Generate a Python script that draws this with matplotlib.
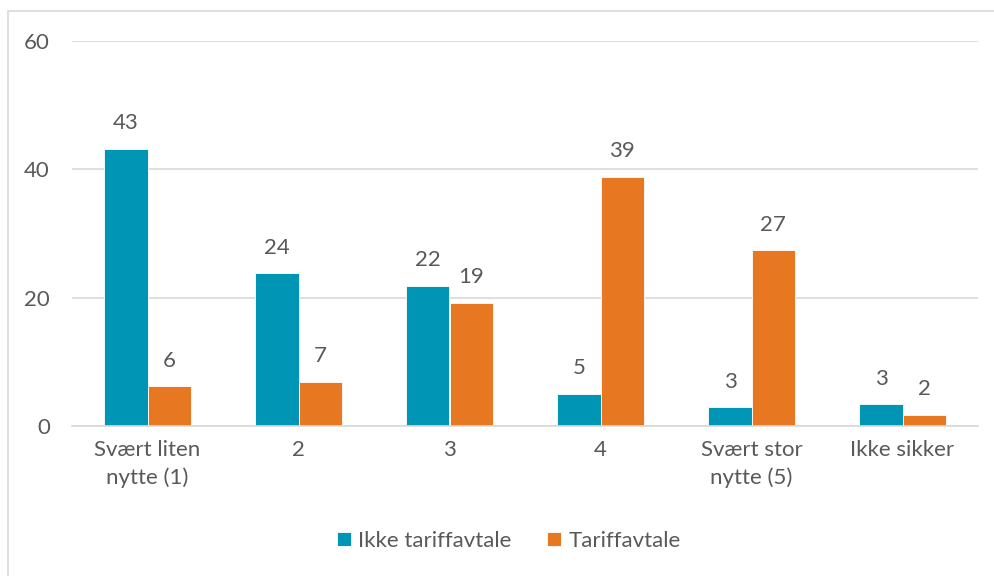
import matplotlib
matplotlib.use("Agg")
import matplotlib.pyplot as plt
import numpy as np

categories = ["Svært liten\nnytte (1)", "2", "3", "4", "Svært stor\nnytte (5)", "Ikke sikker"]
ikke_tariff = [43.2, 23.8, 21.8, 5.0, 2.9, 3.4]
tariff = [6.2, 6.9, 19.2, 38.8, 27.4, 1.7]
series_names = ["Ikke tariffavtale", "Tariffavtale"]

BLUE = "#0095B4"
ORANGE = "#E87722"
TXT = "#595959"
FS = 16
plt.rcParams["font.family"] = ["Lato", "DejaVu Sans"]

fig = plt.figure(figsize=(9.94, 5.76), dpi=100)
# light frame around the chart area
fig.patches.append(plt.Rectangle((8 / 994, -0.1), 1.2, (576 - 11) / 576 + 0.1, transform=fig.transFigure,
                                 fill=False, edgecolor="#d9d9d9", lw=1.2))
ax = fig.add_axes([72 / 994, (576 - 426) / 576, (978 - 72) / 994, (426 - 41) / 576])

x = np.arange(len(categories))
w = 0.285
b1 = ax.bar(x - w / 2, ikke_tariff, w, color=BLUE, edgecolor="white", lw=0.6, label=series_names[0], zorder=2)
b2 = ax.bar(x + w / 2, tariff, w, color=ORANGE, edgecolor="white", lw=0.6, label=series_names[1], zorder=2)
for bars, vals in ((b1, ikke_tariff), (b2, tariff)):
    for r, v in zip(bars, vals):
        ax.text(r.get_x() + r.get_width() / 2, v + 4.0, f"{v:.0f}", ha="center", va="center",
                fontsize=FS, color=TXT)

ax.set_xlim(-0.5, len(categories) - 0.5)
ax.set_ylim(0, 60)
ax.set_yticks([0, 20, 40, 60])
ax.set_xticks(x)
ax.set_xticklabels(categories, linespacing=1.45)
ax.tick_params(axis="both", length=0, labelsize=FS, labelcolor=TXT)
ax.tick_params(axis="y", pad=16)
ax.tick_params(axis="x", pad=10)
ax.grid(axis="y", color="#d9d9d9", lw=1.2, zorder=0)
for s in ["top", "right", "left"]:
    ax.spines[s].set_visible(False)
ax.spines["bottom"].set_color("#d9d9d9")
ax.spines["bottom"].set_linewidth(1.2)

fig.legend(handles=[b1, b2], loc="center", bbox_to_anchor=(0.512, 1 - 541 / 576), ncol=2, frameon=False,
           fontsize=FS, labelcolor=TXT, handlelength=0.6, handleheight=0.6, handletextpad=0.35,
           columnspacing=1.6)

fig.savefig("out.png", dpi=100)
